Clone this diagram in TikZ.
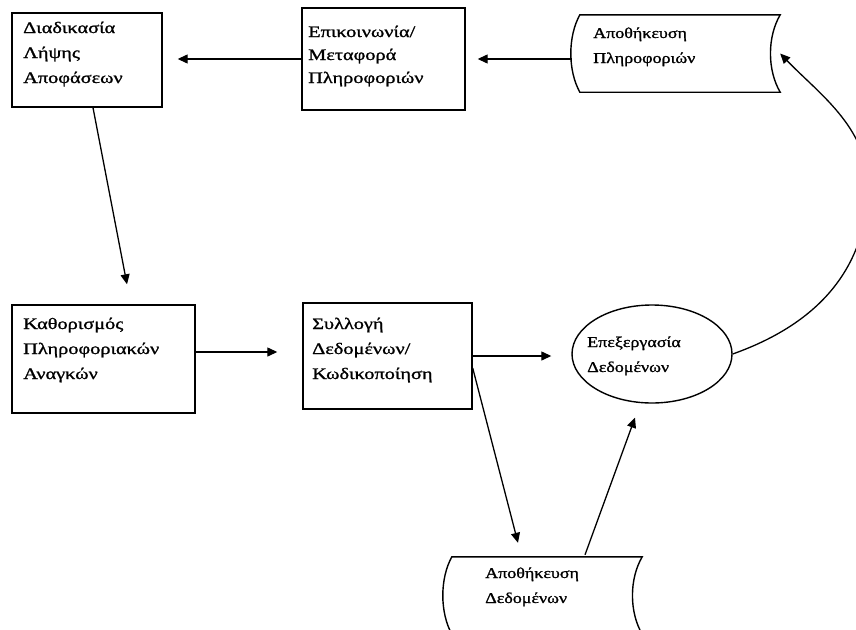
\documentclass[tikz,border=0pt]{standalone}
\usepackage{fontspec}
\setmainfont{Liberation Serif}
\newfontfamily\boxfont{Liberation Serif}[FakeStretch=1.27,FakeBold=1.2]
\newfontfamily\smallfont{Liberation Serif}[FakeStretch=1.2,FakeBold=1.2]
\usetikzlibrary{arrows.meta,shapes.geometric,calc}
\begin{document}
\begin{tikzpicture}[x=1pt,y=-1pt,
  box/.style={draw, line width=1.4pt, rectangle, inner sep=0pt},
  store/.style={rectangle, inner sep=0pt},
  txt/.style={inner sep=0pt, align=left, anchor=base west, font=\boxfont\fontsize{16}{25}\selectfont},
  stxt/.style={inner sep=0pt, align=left, anchor=base west, font=\smallfont\fontsize{15}{25}\selectfont},
  arr/.style={line width=1.3pt, -{Triangle[length=10pt,width=9pt]}},
  ln/.style={line width=1.4pt}]
\useasboundingbox (0,0) rectangle (856,629);
\clip (0,0) rectangle (856,629);

% boxes
\node[box, minimum width=150, minimum height=94] (b1) at (87,60) {};
\node[box, minimum width=163, minimum height=102] (b2) at (383.5,59) {};
\node[box, minimum width=183, minimum height=108] (b3) at (103.5,359) {};
\node[box, minimum width=169, minimum height=106] (b4) at (387.5,356) {};
\node[draw, ellipse, line width=1.4pt, minimum width=160, minimum height=98, inner sep=0pt] (el) at (652,354) {};
\node[store, minimum width=200, minimum height=77] (st1) at (680,53.5) {};
\node[store, minimum width=190, minimum height=77] (st2) at (547,595.5) {};

% storage outlines
\draw[ln] (st1.north west) -- (st1.north east)
  .. controls +(-13,22) and +(-13,-22) .. (st1.south east)
  -- (st1.south west)
  .. controls +(-12,-22) and +(-12,22) .. (st1.north west) -- cycle;
\draw[ln] (st2.north west) -- (st2.north east)
  .. controls +(-13,22) and +(-13,-22) .. (st2.south east)
  -- (st2.south west)
  .. controls +(-12,-22) and +(-12,22) .. (st2.north west) -- cycle;

% texts (anchor = baseline of the last line)
\node[txt] (t1) at (23,83) {Διαδικασία\\Λήψης\\Αποφάσεων};
\node[txt, font=\boxfont\fontsize{16}{23}\selectfont] (t2) at (308,83) {Επικοινωνία/\\Μεταφορά\\Πληροφοριών};
\node[stxt] (t3) at (593,63) {Αποθήκευση\\Πληροφοριών};
\node[txt] (t4) at (23,379) {Καθορισμός\\Πληροφοριακών\\Αναγκών};
\node[txt] (t5) at (312,379) {Συλλογή\\Δεδομένων/\\Κωδικοποίηση};
\node[stxt] (t6) at (587,372) {Επεξεργασία\\Δεδομένων};
\node[stxt] (t7) at (485,603) {Αποθήκευση\\Δεδομένων};

% connectors
\draw[arr] ($(st1.west |- b2.east)+(-8,0)$) -- ($(b2.east)+(12,0)$);
\draw[arr] (b2.west) -- ($(b1.east |- b2.west)+(15,0)$);
\draw[arr] ($(b1.south)+(6,0)$) -- ($(b3.north)+(23.5,-20)$);
\draw[arr] ($(b3.east)+(0,-7)$) -- ($(b4.west |- b3.east)+(-25,-7)$);
\draw[arr] (b4.east) -- ($(el.west |- b4.east)+(-20,0)$);
\draw[arr] ($(b4.east)+(0,12)$) -- ($(st2.north)+(-29,-14)$);
\draw[arr] ($(st2.north)+(38,-2)$) -- ($(el.south)+(-17,14)$);
\draw[arr] (el.east) .. controls (800,330) and (862,285) .. (868,195)
  .. controls (872,130) and (820,95) .. (st1.east);
\end{tikzpicture}
\end{document}
